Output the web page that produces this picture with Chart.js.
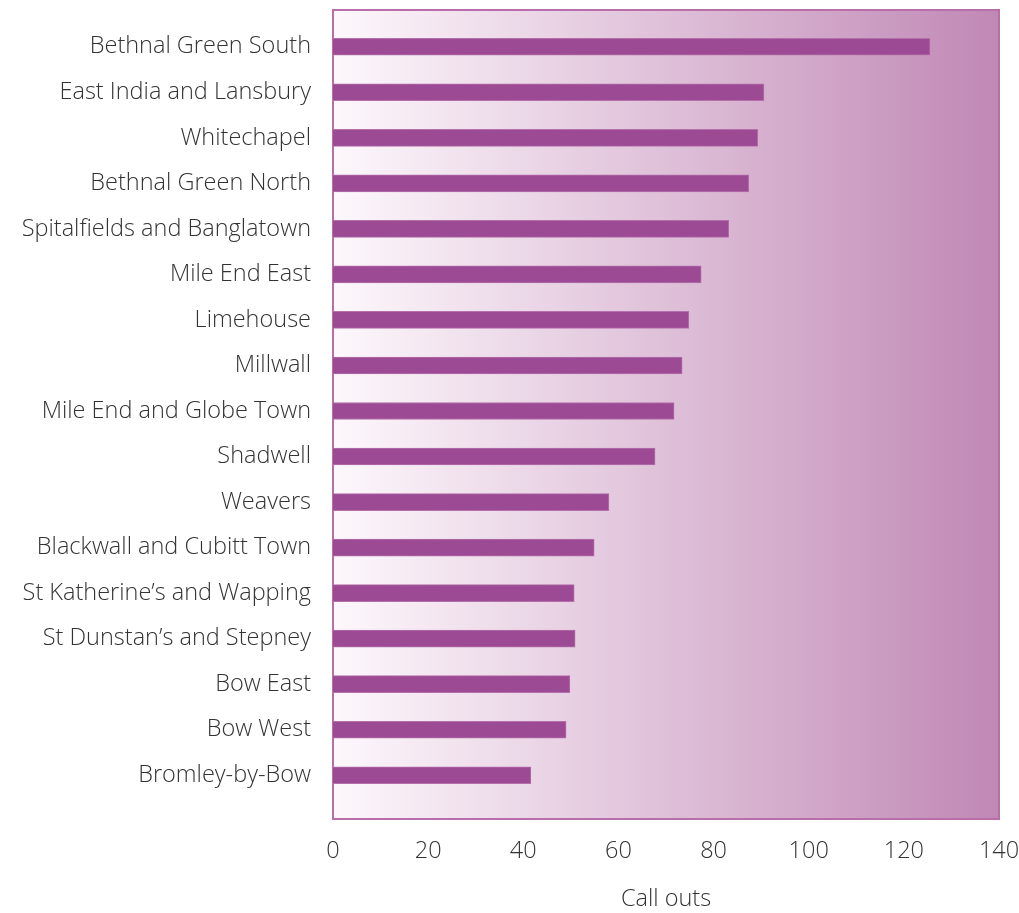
<!DOCTYPE html>
<html>
<head>
<meta charset="utf-8">
<script src="https://cdn.jsdelivr.net/npm/chart.js@4"></script>
<style>
  html, body { margin: 0; padding: 0; background: #fff; }
  #wrap { width: 1019px; height: 913px; }
</style>
</head>
<body>
<div id="wrap"><canvas id="chart" width="1019" height="913"></canvas></div>
<script>
// ward names, top to bottom
var wards = [
    "Bethnal Green South", "East India and Lansbury", "Whitechapel", "Bethnal Green North",
    "Spitalfields and Banglatown", "Mile End East", "Limehouse", "Millwall",
    "Mile End and Globe Town", "Shadwell", "Weavers", "Blackwall and Cubitt Town",
    "St Katherine\u2019s and Wapping", "St Dunstan\u2019s and Stepney", "Bow East", "Bow West",
    "Bromley-by-Bow"
];
var callOuts = [125.5, 90.6, 89.3, 87.4, 83.2, 77.4, 74.8, 73.4, 71.7, 67.7, 58.0, 54.9, 50.7, 50.9, 49.8, 49.0, 41.6];
var xTicks = [0, 20, 40, 60, 80, 100, 120, 140];

var labelFont = { family: 'Open Sans', size: 23.5, weight: 300 };

// gradient panel + frame behind the bars
var framePlugin = {
    id: 'frame',
    beforeDatasetsDraw: function (chart) {
        var ctx = chart.ctx, a = chart.chartArea;
        var top = 10, bottom = 819;
        var g = ctx.createLinearGradient(a.left, 0, a.right, 0);
        g.addColorStop(0, '#fdf8fc');
        g.addColorStop(1, '#c088b5');
        ctx.save();
        ctx.fillStyle = g;
        ctx.fillRect(a.left, top, a.right - a.left, bottom - top);
        ctx.strokeStyle = '#b86ea8';
        ctx.lineWidth = 2;
        ctx.strokeRect(a.left, top, a.right - a.left, bottom - top);
        ctx.restore();
    }
};

// don't let the tick labels push the plot area around
function noPadding(scale) {
    scale.paddingTop = 0;
    scale.paddingBottom = 0;
    scale.paddingLeft = 0;
    scale.paddingRight = 0;
}

var Ctx = document.getElementById('chart');
var Chart1 = new Chart(Ctx, {
    type: 'bar',
    data: {
        labels: wards,
        datasets: [{
            data: callOuts,
            backgroundColor: '#9b4a93',
            borderColor: '#b56fab',
            borderWidth: 1,
            barThickness: 17
        }]
    },
    options: {
        indexAxis: 'y',
        responsive: false,
        animation: false,
        layout: { padding: { top: 24, right: 20, left: 0, bottom: 0 } },
        plugins: { legend: { display: false }, tooltip: { enabled: false } },
        scales: {
            x: {
                min: 0,
                max: 140,
                afterBuildTicks: function (scale) {
                    scale.ticks = xTicks.map(function (v) { return { value: v }; });
                },
                afterFit: function (scale) {
                    scale.height = 115;
                    noPadding(scale);
                },
                grid: { display: false, drawTicks: false },
                border: { display: false },
                ticks: {
                    padding: 39,
                    color: '#333',
                    font: labelFont
                },
                title: {
                    display: true,
                    text: 'Call outs',
                    color: '#333',
                    padding: { top: 0, bottom: 0 },
                    font: labelFont
                }
            },
            y: {
                afterFit: function (scale) {
                    scale.width = 333;
                    noPadding(scale);
                },
                grid: { display: false, drawTicks: false },
                border: { display: false },
                ticks: {
                    padding: 22,
                    color: '#333',
                    font: labelFont
                }
            }
        }
    },
    plugins: [framePlugin]
});
</script>
</body>
</html>
